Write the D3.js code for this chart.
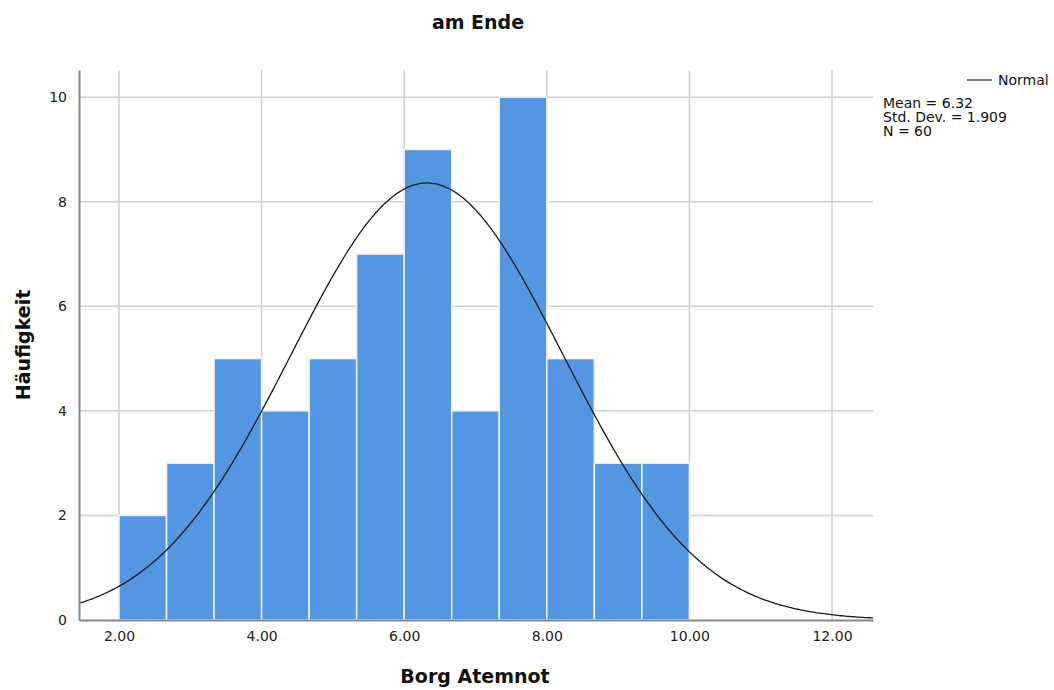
<!DOCTYPE html>
<html><head><meta charset="utf-8">
<script src="https://cdn.jsdelivr.net/npm/d3@7"></script>
<style>body{margin:0;background:#fff;} text{font-family:"DejaVu Sans",sans-serif;}</style>
</head><body>
<svg id="chart" width="1054" height="690"></svg>
<script>
const binStarts = [2.0, 2.667, 3.333, 4.0, 4.667, 5.333, 6.0, 6.667, 7.333, 8.0, 8.667, 9.333];
const binWidth = 0.6667;
const counts = [2, 3, 5, 4, 5, 7, 9, 4, 10, 5, 3, 3];
const xTicks = [2, 4, 6, 8, 10, 12];
const yTicks = [0, 2, 4, 6, 8, 10];
const stats = {mean: 6.32, sd: 1.909, n: 60};
const statLabels = ["Mean = 6.32", "Std. Dev. = 1.909", "N = 60"];

const svg = d3.select("#chart");
const L = 79, R = 873, T = 70, B = 620;
const x = d3.scaleLinear().domain([1.439, 12.575]).range([L, R]);
const y = d3.scaleLinear().domain([0, 10.52]).range([B, T]);

// gridlines
svg.append("g").selectAll("line.v").data(xTicks).join("line")
  .attr("x1", d => x(d)).attr("x2", d => x(d)).attr("y1", T).attr("y2", B)
  .attr("stroke", "#d0d0d0").attr("stroke-width", 1.5);
svg.append("g").selectAll("line.h").data(yTicks.filter(d => d > 0)).join("line")
  .attr("x1", L).attr("x2", R).attr("y1", d => y(d)).attr("y2", d => y(d))
  .attr("stroke", "#d0d0d0").attr("stroke-width", 1.5);

// bars
svg.append("g").selectAll("rect").data(counts).join("rect")
  .attr("x", (d, i) => x(binStarts[i]))
  .attr("width", (d, i) => x(binStarts[i] + binWidth) - x(binStarts[i]))
  .attr("y", d => y(d)).attr("height", d => y(0) - y(d))
  .attr("fill", "#5596e3").attr("stroke", "#f2f2f2").attr("stroke-width", 1.5);

// normal curve
const pdf = v => stats.n * binWidth / (stats.sd * Math.sqrt(2 * Math.PI)) * Math.exp(-0.5 * Math.pow((v - stats.mean) / stats.sd, 2));
const xs = d3.range(0, 401).map(i => 1.439 + (12.575 - 1.439) * i / 400);
svg.append("path").datum(xs)
  .attr("d", d3.line().x(v => x(v)).y(v => y(pdf(v))))
  .attr("fill", "none").attr("stroke", "#1a1a1a").attr("stroke-width", 1.3);

// axes
const xAxis = svg.append("g").attr("transform", `translate(0,${B})`)
  .call(d3.axisBottom(x).tickValues(xTicks).tickFormat(d3.format(".2f")).tickSize(0).tickPadding(11));
xAxis.select(".domain").attr("stroke", "#888").attr("stroke-width", 2);
xAxis.selectAll("text").attr("font-size", 14).attr("fill", "#222").attr("font-family", "DejaVu Sans");
const yAxis = svg.append("g").attr("transform", `translate(${L},0)`)
  .call(d3.axisLeft(y).tickValues(yTicks).tickSize(0).tickPadding(12));
yAxis.select(".domain").attr("stroke", "#888").attr("stroke-width", 2);
yAxis.selectAll("text").attr("font-size", 14).attr("fill", "#222").attr("font-family", "DejaVu Sans");

// titles
svg.append("text").attr("x", 478).attr("y", 29).attr("text-anchor", "middle")
  .attr("font-size", 19).attr("font-weight", "bold").attr("fill", "#111").text("am Ende");
svg.append("text").attr("x", 475).attr("y", 683).attr("text-anchor", "middle")
  .attr("font-size", 19).attr("font-weight", "bold").attr("fill", "#111").text("Borg Atemnot");
svg.append("text").attr("transform", "translate(30,345) rotate(-90)").attr("text-anchor", "middle")
  .attr("font-size", 19).attr("font-weight", "bold").attr("fill", "#111").text("Häufigkeit");

// legend
svg.append("line").attr("x1", 967).attr("x2", 992).attr("y1", 80).attr("y2", 80)
  .attr("stroke", "#333").attr("stroke-width", 1.3);
svg.append("text").attr("x", 998).attr("y", 85).attr("font-size", 14).attr("fill", "#111").text("Normal");
svg.append("g").selectAll("text").data(statLabels).join("text")
  .attr("x", 883).attr("y", (d, i) => 108 + i * 14).attr("font-size", 14).attr("fill", "#111").text(d => d);
</script>
</body></html>
